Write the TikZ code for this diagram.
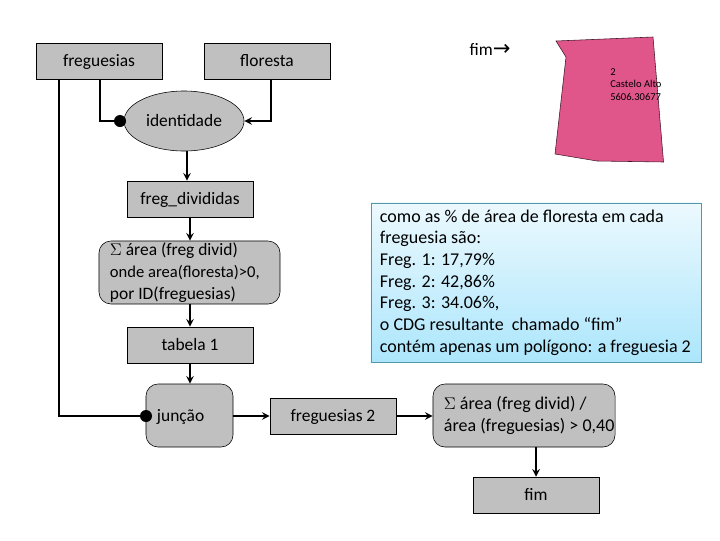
\documentclass[tikz,border=0pt]{standalone}
\usepackage{fontspec}
\usepackage{amsmath}
\setmainfont{Carlito}
\newfontfamily\arrowfont{DejaVu Sans}
\usetikzlibrary{shapes}
\definecolor{boxgray}{RGB}{192,192,192}
\definecolor{polypink}{RGB}{224,85,138}
\definecolor{noteedge}{RGB}{84,150,170}
\definecolor{notetop}{RGB}{236,249,254}
\definecolor{notebottom}{RGB}{172,230,252}
\newcommand{\areasum}{$\Sigma$}
\tikzset{
  plain/.style={font=\fontsize{12.4}{15.4}\selectfont},
  wider/.style={font=\fontsize{12.8}{15.4}\selectfont},
  oneline/.style={text height=0.3cm,text depth=0.02cm},
  tablebox/.style={plain,oneline,draw,fill=boxgray,minimum width=3.15cm,minimum height=0.9cm,inner sep=0pt},
  opbox/.style={plain,draw,fill=boxgray,rounded corners=0.3cm,inner ysep=0pt,align=flush left},
  link/.style={line width=1.4pt,-stealth},
  joinlink/.style={line width=1.4pt},
  joindot/.style={circle,fill=black,minimum size=0.3cm,inner sep=0pt}
}

\begin{document}
\begin{tikzpicture}[x=0.025cm,y=-0.025cm]
  \useasboundingbox (0,0) rectangle (720,540);
  \node[tablebox] (freguesias) at (99,61) {freguesias};
  \node[tablebox] (floresta) at (267,61) {floresta};
  \node[plain,oneline,draw,fill=boxgray,ellipse,minimum width=3cm,minimum height=1.5cm,inner sep=0pt] (identidade) at (184,121) {identidade};
  \node[tablebox] (divididas) at (190,199) {freg\_divididas};
  \node[opbox,minimum width=4.525cm,minimum height=1.575cm,text width=3.975cm,inner xsep=0.275cm] (somaarea) at (189.5,272.5) {\areasum{} área (freg divid)\\\mbox{\fontsize{11.8}{15.4}\selectfont onde area(floresta)>0,}\\por ID(freguesias)};
  \node[tablebox] (tabela) at (190,345) {tabela 1};
  \node[opbox,oneline,minimum width=2.175cm,minimum height=1.575cm,text width=1.625cm,inner xsep=0.275cm] (juncao) at (189.5,415.5) {junção};
  \node[tablebox] (freguesias2) at (333,416) {freguesias 2};
  \node[opbox,wider,minimum width=4.55cm,minimum height=1.575cm,text width=4cm,inner xsep=0.275cm] (razao) at (524,415.5) {\areasum{} área (freg divid) /\\\mbox{área (freguesias) > 0,40}};
  \node[tablebox] (fim) at (536,495) {fim};
  \node[wider,draw=noteedge,top color=notetop,bottom color=notebottom,minimum width=8.25cm,minimum height=3.975cm,text width=7.8cm,inner xsep=0.225cm,inner ysep=0pt,align=flush left] (nota) at (536,282.5) {como as \% de área de floresta em cada\\freguesia são:\\Freg. 1: 17,79\%\\Freg. 2: 42,86\%\\Freg. 3: 34.06\%,\\o CDG resultante~ chamado “fim”\\contém apenas um polígono: a freguesia 2};
  \node[plain,inner sep=0pt] (fimseta) at (490,49) {fim{\arrowfont\fontsize{15}{15}\selectfont →}};
  \fill[polypink,draw=black!70!polypink,line width=0.4pt] (556,41) -- (653,37) -- (663.5,162) -- (597,161) -- (555,154) -- (566,57) -- cycle;
  \node[font=\fontsize{7.5}{8.7}\selectfont,align=left,inner sep=0pt,anchor=north west,text=black] (rotulo) at (610,68.5) {2\\Castelo Alto\\5606.30677};
  \node[joindot] (dotidentidade) at (120,121) {};
  \node[joindot] (dotjuncao) at (146,416) {};
  \coordinate (freg1) at (59,79);
  \coordinate (freg2) at (100,79);
  \coordinate (flor1) at (271,79);
  \coordinate (iden1) at (187,151);
  \draw[joinlink] (freg2) |- (dotidentidade);
  \draw[joinlink] (freg1) |- (dotjuncao);
  \draw[link] (flor1) |- (identidade.east);
  \draw[link] (iden1) -- (iden1 |- divididas.north);
  \draw[link] (divididas) -- (somaarea.north -| divididas);
  \draw[link] (somaarea.south -| tabela) -- (tabela);
  \draw[link] (tabela) -- (juncao.north -| tabela);
  \draw[link] (juncao.east |- freguesias2) -- (freguesias2);
  \draw[link] (freguesias2) -- (razao.west |- freguesias2);
  \draw[link] (razao.south -| fim) -- (fim);
\end{tikzpicture}
\end{document}
